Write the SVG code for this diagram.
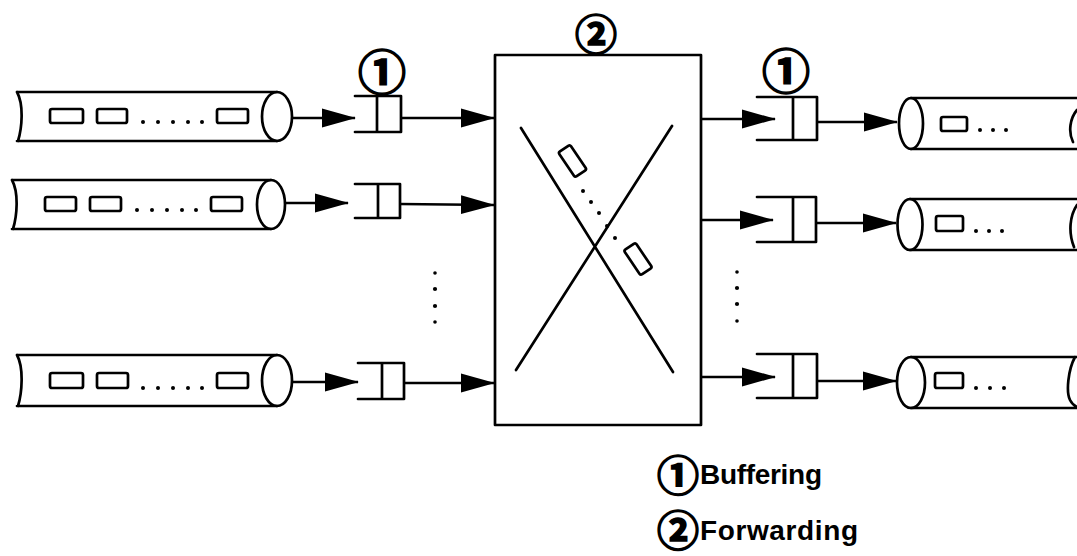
<svg xmlns="http://www.w3.org/2000/svg" width="1077" height="556" viewBox="0 0 1077 556">
<style>
.ln{fill:none;stroke:#000;stroke-width:2.7;stroke-linecap:round;stroke-linejoin:round}
.pk{fill:#fff;stroke:#000;stroke-width:2.7}
.dot{fill:#000}
.con{fill:none;stroke:#000;stroke-width:2.7}
.circ{font-family:"Noto Sans CJK JP","DejaVu Sans",sans-serif;font-weight:bold;fill:#000;stroke:#000;stroke-width:1.6}
.lbl{font-family:"Liberation Sans",Arial,sans-serif;font-weight:bold;font-size:28px;fill:#000}
</style>
<defs>
<marker id="ah" markerUnits="userSpaceOnUse" markerWidth="34" markerHeight="20" viewBox="0 0 34 20" refX="33" refY="10" orient="auto">
<path d="M0,0.5 L34,10 L0,19.5 Z" fill="#000"/>
</marker>
</defs>
<rect width="1077" height="556" fill="#fff"/>

<!-- left pipes -->
<g id="in-pipe-1">
<path class="ln" d="M17,92 L277,92 M17,141 L277,141 M17,92 C24,105 22,128 18,141"/>
<ellipse class="ln" cx="277" cy="116.5" rx="15" ry="24.5"/>
<rect class="pk" x="50" y="109" width="33" height="14" rx="2"/>
<rect class="pk" x="97" y="109" width="30" height="14" rx="2"/>
<rect class="pk" x="217" y="109" width="31" height="14" rx="2"/>
<g class="dot"><circle cx="143" cy="122" r="2"/><circle cx="158" cy="122" r="2"/><circle cx="173" cy="122" r="2"/><circle cx="188" cy="122" r="2"/><circle cx="202" cy="122" r="2"/></g>
</g>
<g id="in-pipe-2">
<path class="ln" d="M12,180 L271,180 M12,229 L271,229 M12,180 C19,193 17,216 13,229"/>
<ellipse class="ln" cx="271" cy="204.5" rx="14" ry="24.5"/>
<rect class="pk" x="45" y="197" width="31" height="14" rx="2"/>
<rect class="pk" x="90" y="197" width="31" height="14" rx="2"/>
<rect class="pk" x="211" y="197" width="31" height="14" rx="2"/>
<g class="dot"><circle cx="137" cy="210" r="2"/><circle cx="152" cy="210" r="2"/><circle cx="167" cy="210" r="2"/><circle cx="182" cy="210" r="2"/><circle cx="196" cy="210" r="2"/></g>
</g>
<g id="in-pipe-3">
<path class="ln" d="M17,355 L277,355 M17,406 L277,406 M17,355 C24,368 22,393 18,406"/>
<ellipse class="ln" cx="277" cy="380.5" rx="15" ry="25.5"/>
<rect class="pk" x="50" y="373" width="33" height="15" rx="2"/>
<rect class="pk" x="97" y="373" width="31" height="15" rx="2"/>
<rect class="pk" x="217" y="373" width="31" height="15" rx="2"/>
<g class="dot"><circle cx="143" cy="388" r="2"/><circle cx="158" cy="388" r="2"/><circle cx="173" cy="388" r="2"/><circle cx="188" cy="388" r="2"/><circle cx="202" cy="388" r="2"/></g>
</g>

<!-- input queues -->
<g id="in-queue-1">
<path class="ln" d="M355,96 L401,96 L401,132 L355,132 M377,96 L377,132"/>
<text class="circ" x="382" y="90" font-size="48" text-anchor="middle">①</text>
</g>
<g id="in-queue-2">
<path class="ln" d="M355,184 L400,184 L400,218 L355,218 M378,184 L378,218"/>
</g>
<g id="in-queue-3">
<path class="ln" d="M358,363 L404,363 L404,399 L358,399 M382,363 L382,399"/>
</g>

<!-- switch -->
<g id="switch">
<rect class="ln" x="495" y="55" width="206" height="370" stroke-linecap="butt"/>
<path class="ln" d="M521,128 L673,372 M672,126 L516,370"/>
<rect class="pk" x="-15" y="-7" width="30" height="14" rx="2" transform="translate(572.5,161) rotate(56)"/>
<rect class="pk" x="-15" y="-7" width="30" height="14" rx="2" transform="translate(638,259) rotate(56)"/>
<g class="dot"><circle cx="583" cy="191" r="2"/><circle cx="591" cy="202" r="2"/><circle cx="599" cy="213" r="2"/><circle cx="607" cy="226" r="2"/><circle cx="615" cy="238" r="2"/></g>
<text class="circ" x="596" y="50" font-size="42" stroke-width="2.2" text-anchor="middle">②</text>
</g>

<!-- output queues -->
<g id="out-queue-1">
<path class="ln" d="M757,97 L817,97 L817,140 L757,140 M793,97 L793,140"/>
<text class="circ" x="786" y="89" font-size="48" text-anchor="middle">①</text>
</g>
<g id="out-queue-2">
<path class="ln" d="M757,197 L816,197 L816,242 L757,242 M793,197 L793,242"/>
</g>
<g id="out-queue-3">
<path class="ln" d="M757,354 L817,354 L817,398 L757,398 M793,354 L793,398"/>
</g>

<!-- output pipes -->
<g id="out-pipe-1">
<path class="ln" d="M911,98 L1077,98 M911,149 L1077,149 M1077,110 C1070,118 1068,132 1073,142"/>
<ellipse class="ln" cx="911" cy="123.5" rx="12" ry="25.5"/>
<rect class="pk" x="941" y="117" width="26" height="14" rx="2"/>
<g class="dot"><circle cx="980" cy="130" r="2"/><circle cx="993" cy="130" r="2"/><circle cx="1006" cy="130" r="2"/></g>
</g>
<g id="out-pipe-2">
<path class="ln" d="M910,199 L1077,199 M910,250 L1077,250 M1077,205 C1070,215 1068,232 1074,247"/>
<ellipse class="ln" cx="910" cy="224.5" rx="12.5" ry="25.5"/>
<rect class="pk" x="936" y="216" width="27" height="15" rx="2"/>
<g class="dot"><circle cx="976" cy="231" r="2"/><circle cx="989" cy="231" r="2"/><circle cx="1002" cy="231" r="2"/></g>
</g>
<g id="out-pipe-3">
<path class="ln" d="M911,357 L1077,357 M911,408 L1077,408 M1075,357 C1068,370 1066,392 1070,400 C1072,404 1075,406 1077,407"/>
<ellipse class="ln" cx="911" cy="382.5" rx="14" ry="25.5"/>
<rect class="pk" x="935" y="373" width="28" height="15" rx="2"/>
<g class="dot"><circle cx="976" cy="388" r="2"/><circle cx="990" cy="388" r="2"/><circle cx="1004" cy="388" r="2"/></g>
</g>

<!-- vertical ellipsis -->
<g id="ellipsis-left" class="dot"><circle cx="435" cy="273" r="1.8"/><circle cx="435" cy="289" r="2.1"/><circle cx="435" cy="306" r="2.1"/><circle cx="435" cy="322" r="1.8"/></g>
<g id="ellipsis-right" class="dot"><circle cx="737" cy="272" r="1.8"/><circle cx="737" cy="288" r="2.1"/><circle cx="737" cy="304" r="2.1"/><circle cx="737" cy="321" r="1.8"/></g>

<!-- connectors -->
<g id="connectors" class="con">
<path d="M292,118 L355,118" marker-end="url(#ah)"/>
<path d="M401,118 L494,118" marker-end="url(#ah)"/>
<path d="M285,203 L348,203" marker-end="url(#ah)"/>
<path d="M400,204 L494,205" marker-end="url(#ah)"/>
<path d="M292,382 L358,382" marker-end="url(#ah)"/>
<path d="M404,383 L494,383" marker-end="url(#ah)"/>
<path d="M701,119 L775,119" marker-end="url(#ah)"/>
<path d="M817,122 L897,122" marker-end="url(#ah)"/>
<path d="M701,220 L773,220" marker-end="url(#ah)"/>
<path d="M816,223 L896,223" marker-end="url(#ah)"/>
<path d="M701,377 L775,377" marker-end="url(#ah)"/>
<path d="M817,381 L896,381" marker-end="url(#ah)"/>
</g>

<!-- legend -->
<g id="legend">
<text class="lbl" y="484"><tspan class="circ" x="657" y="491" font-size="42">①</tspan><tspan x="700" y="484" textLength="122" lengthAdjust="spacing">Buffering</tspan></text>
<text class="lbl" y="540"><tspan class="circ" x="657" y="546" font-size="42">②</tspan><tspan x="700" y="540" textLength="158" lengthAdjust="spacing">Forwarding</tspan></text>
</g>
</svg>
